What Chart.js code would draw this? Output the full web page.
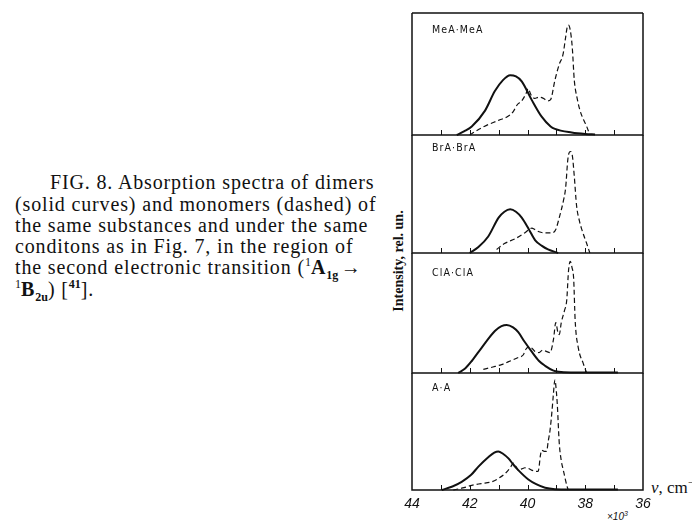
<!DOCTYPE html>
<html>
<head>
<meta charset="utf-8">
<script src="https://cdn.jsdelivr.net/npm/chart.js@4.4.1/dist/chart.umd.min.js"></script>
<style>
  html,body{margin:0;padding:0;background:#fff;}
  body{width:692px;height:522px;position:relative;overflow:hidden;}
  canvas{position:absolute;left:0;}
  .cap{position:absolute;font-family:"Liberation Serif","Times New Roman",serif;font-size:20px;line-height:20px;letter-spacing:0.85px;color:#111;white-space:nowrap;}
  .cap sub,.cap sup{font-size:12px;line-height:0;letter-spacing:0;}
  .plab{position:absolute;font-family:"DejaVu Sans Condensed","DejaVu Sans",sans-serif;font-size:10.5px;letter-spacing:1.1px;color:#111;white-space:nowrap;line-height:10px;}
  .ylab{position:absolute;font-family:"Liberation Serif",serif;font-weight:bold;font-size:14px;color:#111;white-space:nowrap;transform:translate(-50%,-50%) rotate(-90deg);left:399px;top:261px;}
  .nu{position:absolute;left:651px;top:476px;font-family:"Liberation Serif",serif;font-size:17px;color:#111;white-space:nowrap;}
  .mult{position:absolute;left:607px;top:510px;font-family:"Liberation Sans Narrow","Liberation Sans",sans-serif;font-style:italic;font-size:10px;color:#111;white-space:nowrap;}
</style>
</head>
<body>
<div class="cap" style="left:50px;top:172px">FIG. 8. Absorption spectra of dimers</div>
<div class="cap" style="left:15px;top:194px">(solid curves) and monomers (dashed) of</div>
<div class="cap" style="left:15px;top:215px">the same substances and under the same</div>
<div class="cap" style="left:15px;top:236px">conditons as in Fig. 7, in the region of</div>
<div class="cap" style="left:15px;top:257px">the second electronic transition (<sup>1</sup><b>A<sub>1g</sub></b>&#8202;→</div>
<div class="cap" style="left:15px;top:279px"><sup>1</sup><b>B<sub>2u</sub></b>) [<sup><b>41</b></sup>].</div>
<div class="ylab">Intensity, rel. un.</div>
<div class="nu"><i>ν</i>, cm<sup style="font-size:11px">−1</sup></div>
<div class="mult">×10<sup style="font-size:7px">3</sup></div>

<canvas id="c0"></canvas>
<canvas id="c1"></canvas>
<canvas id="c2"></canvas>
<canvas id="c3"></canvas>

<div class="plab" style="left:432px;top:24px">MeA·MeA</div>
<div class="plab" style="left:432px;top:142px">BrA·BrA</div>
<div class="plab" style="left:432px;top:267px">ClA·ClA</div>
<div class="plab" style="left:432px;top:382px">A·A</div>

<script>
// ---- data (wavenumber in 10^3 cm^-1, relative intensity) ----
const xTickLabels = [44, 42, 40, 38, 36];
const panelNames = ['MeA·MeA', 'BrA·BrA', 'ClA·ClA', 'A·A'];

const meaSolidNu = [42.45,42.2,41.93,41.47,41.13,40.85,40.6,40.4,40.2,39.86,39.51,39.2,39.05,38.47,38.0,37.66];
const meaSolidI  = [0,0.03,0.07,0.20,0.36,0.45,0.49,0.48,0.44,0.29,0.15,0.07,0.05,0.02,0.008,0.004];
const meaDashNu  = [42.0,41.8,41.5,41.0,40.7,40.5,40.35,40.2,40.05,39.98,39.88,39.75,39.6,39.45,39.3,39.2,39.05,38.9,38.77,38.68,38.62,38.58,38.52,38.45,38.38,38.28,38.18,38.05,37.95,37.84];
const meaDashI   = [0,0.03,0.07,0.12,0.15,0.19,0.25,0.28,0.34,0.38,0.33,0.30,0.31,0.30,0.28,0.29,0.45,0.58,0.66,0.80,0.89,0.90,0.86,0.72,0.45,0.30,0.20,0.12,0.07,0];

const braSolidNu = [42.0,41.7,41.36,41.0,40.8,40.6,40.4,40.2,39.95,39.74,39.5,39.29,38.94];
const braSolidI  = [0,0.05,0.14,0.30,0.35,0.37,0.35,0.30,0.20,0.11,0.06,0.03,0];
const braDashNu  = [41.07,40.8,40.43,40.1,39.85,39.75,39.6,39.4,39.15,39.02,38.9,38.75,38.68,38.6,38.52,38.45,38.38,38.3,38.2,38.12,37.95,37.84];
const braDashI   = [0.03,0.08,0.12,0.17,0.21,0.20,0.18,0.17,0.17,0.20,0.30,0.45,0.55,0.80,0.86,0.83,0.65,0.40,0.27,0.20,0.08,0];

const claSolidNu = [42.4,42.15,41.93,41.59,41.13,40.9,40.72,40.5,40.32,40.1,39.86,39.6,39.39,39.1,38.93,38.5,36.87];
const claSolidI  = [0,0.04,0.10,0.21,0.35,0.39,0.40,0.38,0.34,0.26,0.18,0.10,0.06,0.02,0.01,0.004,0.004];
const claDashNu  = [41.53,41.2,40.9,40.6,40.32,40.15,40.05,39.93,39.82,39.74,39.6,39.48,39.35,39.22,39.1,39.02,38.95,38.9,38.83,38.72,38.64,38.58,38.52,38.46,38.4,38.35,38.24,38.07,37.95];
const claDashI   = [0.03,0.05,0.07,0.10,0.13,0.15,0.20,0.22,0.20,0.18,0.17,0.19,0.18,0.17,0.28,0.42,0.34,0.32,0.42,0.52,0.61,0.85,0.93,0.88,0.78,0.44,0.21,0.08,0];

const aaSolidNu  = [42.97,42.6,42.28,41.95,41.70,41.36,41.15,41.01,40.85,40.66,40.5,40.32,39.97,39.7,39.39,38.59,36.87];
const aaSolidI   = [0,0.03,0.07,0.13,0.20,0.28,0.32,0.33,0.31,0.27,0.22,0.17,0.09,0.05,0.02,0.004,0.004];
const aaDashNu   = [42.57,42.2,41.93,41.6,41.24,41.0,40.78,40.6,40.49,40.4,40.32,40.2,40.09,39.97,39.86,39.7,39.63,39.55,39.51,39.42,39.34,39.28,39.22,39.15,39.11,39.05,39.0,38.97,38.9,38.83,38.76,38.64,38.59];
const aaDashI    = [0,0.02,0.04,0.055,0.07,0.10,0.14,0.19,0.23,0.20,0.17,0.18,0.19,0.185,0.17,0.16,0.16,0.30,0.34,0.33,0.33,0.42,0.51,0.68,0.80,0.94,0.84,0.74,0.40,0.25,0.17,0.04,0];

// ---- layout ----
const PAGE_W = 692;
const PLOT_L = 412, PLOT_R = 643;
const panelBounds = [[13,135],[135,253],[253,373],[373,490]];
const series = [
  [meaSolidNu, meaSolidI, meaDashNu, meaDashI],
  [braSolidNu, braSolidI, braDashNu, braDashI],
  [claSolidNu, claSolidI, claDashNu, claDashI],
  [aaSolidNu,  aaSolidI,  aaDashNu,  aaDashI]
];
const pts = (xs, ys) => xs.map((x, i) => ({x, y: ys[i]}));

const framePlugin = {
  id: 'frame',
  afterDatasetsDraw(chart, args, opts) {
    const {ctx, chartArea: a, scales} = chart;
    ctx.save();
    ctx.strokeStyle = '#111';
    ctx.lineWidth = 1.5;
    ctx.beginPath();
    if (opts.top) { ctx.moveTo(a.left, a.top); ctx.lineTo(a.right, a.top); }
    ctx.moveTo(a.left, a.top); ctx.lineTo(a.left, a.bottom);
    ctx.moveTo(a.right, a.top); ctx.lineTo(a.right, a.bottom);
    ctx.moveTo(a.left - 0.75, a.bottom); ctx.lineTo(a.right + 0.75, a.bottom);
    ctx.stroke();
    ctx.lineWidth = 1;
    ctx.beginPath();
    for (let v = 37; v <= 43; v++) {
      const px = Math.round(scales.x.getPixelForValue(v)) + 0.5;
      ctx.moveTo(px, a.bottom); ctx.lineTo(px, a.bottom - 5);
    }
    ctx.stroke();
    ctx.restore();
  }
};

panelBounds.forEach(([top, bottom], i) => {
  const isLast = i === panelBounds.length - 1;
  const padT = 4, padB = 4;
  const axisH = isLast ? 28 : 0;
  const cv = document.getElementById('c' + i);
  const h = (bottom - top) + padT + padB + axisH;
  cv.width = PAGE_W; cv.height = h;
  cv.style.top = (top - padT) + 'px';
  cv.style.width = PAGE_W + 'px'; cv.style.height = h + 'px';
  const [sNu, sI, dNu, dI] = series[i];
  new Chart(cv, {
    type: 'line',
    data: {
      datasets: [
        {label: panelNames[i] + ' dimer', data: pts(sNu, sI), borderColor: '#111', borderWidth: 2,
         pointRadius: 0, tension: 0.35, cubicInterpolationMode: 'monotone', fill: false, clip: false},
        {label: panelNames[i] + ' monomer', data: pts(dNu, dI), borderColor: '#111', borderWidth: 1.2,
         borderDash: [5, 3], pointRadius: 0, tension: 0.3, cubicInterpolationMode: 'monotone', fill: false, clip: false}
      ]
    },
    options: {
      responsive: false, animation: false, devicePixelRatio: 1,
      layout: {padding: {left: PLOT_L, right: PAGE_W - PLOT_R, top: padT, bottom: padB}},
      plugins: {legend: {display: false}, tooltip: {enabled: false}, frame: {top: i === 0}},
      scales: {
        x: {
          type: 'linear', min: 36, max: 44, reverse: true, display: isLast,
          grid: {display: false, drawTicks: false},
          border: {display: false},
          afterFit: (s) => { s.height = axisH; },
          afterBuildTicks: (s) => { s.ticks = xTickLabels.map(v => ({value: v})); },
          ticks: {padding: 6, color: '#111', maxRotation: 0, autoSkip: false,
                  font: {family: '"Liberation Sans Narrow","Liberation Sans",sans-serif', style: 'italic', size: 14},
                  callback: (v) => String(v)}
        },
        y: {type: 'linear', min: 0, max: 1, display: false}
      }
    },
    plugins: [framePlugin]
  });
});
</script>
</body>
</html>
